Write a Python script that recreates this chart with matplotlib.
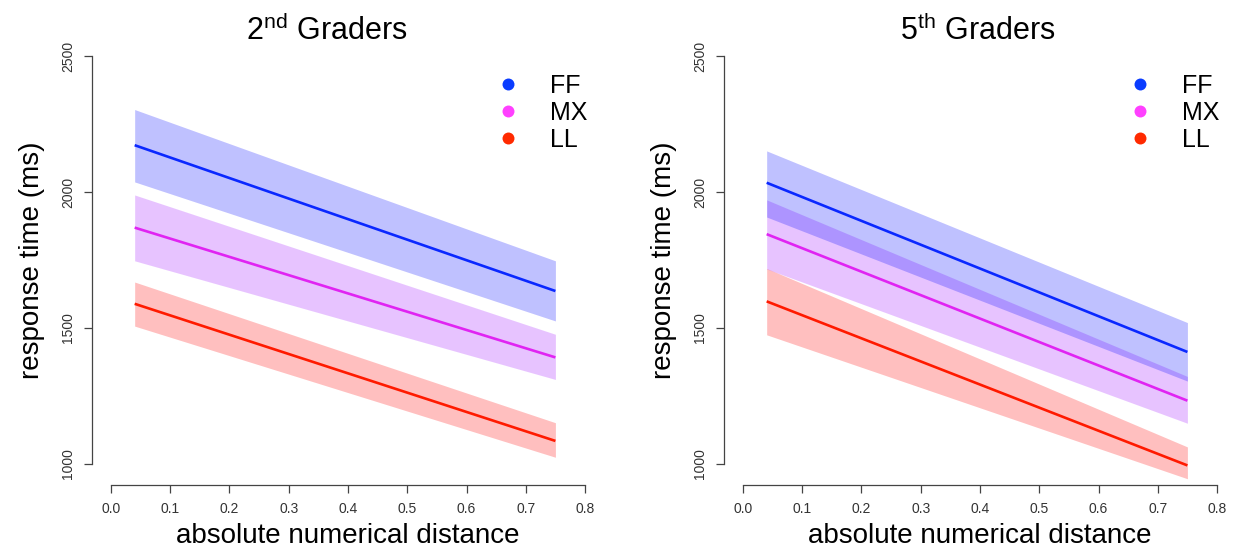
import numpy as np
import matplotlib
matplotlib.use("Agg")
import matplotlib.pyplot as plt
from matplotlib.lines import Line2D

plt.rcParams['font.family'] = ['Liberation Sans', 'DejaVu Sans']
plt.rcParams['mathtext.fontset'] = 'custom'
plt.rcParams['mathtext.rm'] = 'Liberation Sans'

# model predictions at the two ends of the distance range
distance = [0.04, 0.75]
groups = ['FF', 'MX', 'LL']

# 2nd graders: fit, lower, upper (ms)
g2_fit = {'FF': [2172, 1636], 'MX': [1869, 1392], 'LL': [1589, 1085]}
g2_lo = {'FF': [2037, 1526], 'MX': [1747, 1311], 'LL': [1507, 1025]}
g2_hi = {'FF': [2303, 1747], 'MX': [1989, 1477], 'LL': [1669, 1152]}

# 5th graders
g5_fit = {'FF': [2034, 1412], 'MX': [1845, 1233], 'LL': [1598, 995]}
g5_lo = {'FF': [1908, 1305], 'MX': [1717, 1150], 'LL': [1475, 946]}
g5_hi = {'FF': [2151, 1520], 'MX': [1971, 1322], 'LL': [1719, 1063]}

line_col = {'FF': '#0A28FF', 'MX': '#E024F2', 'LL': '#FF1A00'}
fill_col = {'FF': '#0008FF', 'MX': '#A313FF', 'LL': '#FF0000'}
dot_col = {'FF': '#0A3CFF', 'MX': '#FF40FF', 'LL': '#FF2A00'}

W, H = 1239, 548
fig = plt.figure(figsize=(W / 100, H / 100), dpi=100)

panels = [
    (92, 327, '2$^{\\mathrm{nd}}$ Graders', g2_fit, g2_lo, g2_hi, 498),
    (724, 978, '5$^{\\mathrm{th}}$ Graders', g5_fit, g5_lo, g5_hi, 1130),
]

for left_px, title_px, title, fit, lo, hi, leg_px in panels:
    ax = fig.add_axes([left_px / W, 63 / H, 512 / W, 450 / H])
    x = np.array(distance)
    # bands bottom-up so FF sits on top (darker overlap with MX)
    for g in ['LL', 'MX', 'FF']:
        ax.fill_between(x, lo[g], hi[g], color=fill_col[g], alpha=0.25, lw=0)
    for g in ['LL', 'MX', 'FF']:
        ax.plot(x, fit[g], color=line_col[g], lw=1.9, solid_capstyle='butt')

    ax.set_xlim(-0.032, 0.832)
    ax.set_ylim(923, 2577)
    for s in ['top', 'right']:
        ax.spines[s].set_visible(False)
    ax.spines['left'].set_bounds(1000, 2500)
    ax.spines['bottom'].set_bounds(0, 0.8)
    for s in ['left', 'bottom']:
        ax.spines[s].set_color('#444444')
        ax.spines[s].set_linewidth(0.9)
    ticks = np.arange(0, 0.81, 0.1)
    ax.set_xticks(ticks)
    ax.set_xticklabels(['%.1f' % v for v in ticks])
    ax.set_yticks([1000, 1500, 2000, 2500])
    ax.tick_params(axis='both', direction='out', length=6, width=0.9,
                   color='#444444', labelcolor='#333333', labelsize=10)
    ax.tick_params(axis='x', pad=6)
    ax.tick_params(axis='y', pad=6)
    for lab in ax.get_yticklabels():
        lab.set_rotation(90)
        lab.set_va('center')

    ax.set_xlabel('absolute numerical distance', fontsize=20, labelpad=5)
    ax.set_ylabel('response time (ms)', fontsize=20, labelpad=12)

    fig.text(title_px / W, 1 - 31 / H, title, fontsize=22,
             ha='center', va='center')

    handles = [Line2D([], [], ls='none', marker='o', ms=8.6,
                      markerfacecolor=dot_col[g], markeredgecolor='none')
               for g in groups]
    ax.legend(handles, groups, loc='upper left', frameon=False,
              bbox_to_anchor=(leg_px / W, 1 - 74 / H),
              bbox_transform=fig.transFigure, borderpad=0, borderaxespad=0,
              handlelength=0.8, handletextpad=1.3, labelspacing=0.12,
              fontsize=18)

fig.savefig('out.png', dpi=100)
